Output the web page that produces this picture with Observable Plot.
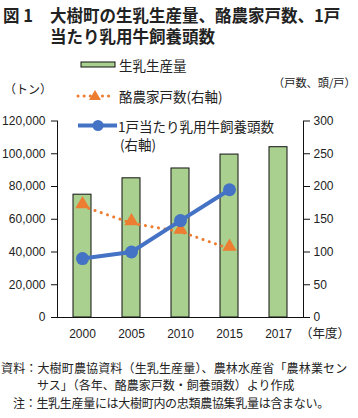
<!DOCTYPE html>
<html><head><meta charset="utf-8">
<script src="https://cdn.jsdelivr.net/npm/d3@7"></script>
<script src="https://cdn.jsdelivr.net/npm/@observablehq/plot@0.6"></script>
<style>
html,body{margin:0;padding:0;background:#fff;}
body{width:358px;height:418px;position:relative;overflow:hidden;font-family:"Noto Sans CJK JP","Noto Sans",sans-serif;color:#222;}
.abs{position:absolute;white-space:nowrap;}
.title{font-weight:700;font-size:16.5px;line-height:20.5px;}
.leg{font-size:13.5px;line-height:16px;}
.unit{font-size:12px;line-height:14px;}
.foot{font-size:12px;line-height:15px;height:15px;}
#chart{position:absolute;left:0;top:50px;}
</style></head>
<body>
<div class="abs title" style="left:3px;top:5px;">図 1</div>
<div class="abs title" style="left:50px;top:5px;">大樹町の生乳生産量、酪農家戸数、1戸<br>当たり乳用牛飼養頭数</div>
<div id="chart"></div>
<div id="legend"></div>
<div class="abs unit" style="left:4px;top:82px;">（トン）</div>
<div class="abs unit" style="left:273px;top:75px;font-size:11.2px;">（戸数、頭/戸）</div>
<div class="abs unit" style="left:300px;top:326px;font-size:12.5px;">（年度）</div>
<div class="abs foot" style="left:1px;top:359.5px;letter-spacing:0.15px;">資料：大樹町農協資料（生乳生産量）、農林水産省「農林業セン</div>
<div class="abs foot" style="left:37px;top:376.5px;">サス」（各年、酪農家戸数・飼養頭数）より作成</div>
<div class="abs foot" style="left:13px;top:394.5px;letter-spacing:-0.3px;">注：生乳生産量には大樹町内の忠類農協集乳量は含まない。</div>
<script>
// ---- data ----
const years = ["2000", "2005", "2010", "2015", "2017"];
const milkTons = [75000, 85000, 91000, 99500, 104000];
const farmYears = ["2000", "2005", "2010", "2015"];
const dairyFarms = [170, 144, 131, 105];
const headsPerFarm = [90, 100, 148, 195];
const leftTicks = [0, 20000, 40000, 60000, 80000, 100000, 120000];
const seriesNames = ["生乳生産量", "酪農家戸数(右軸)", "1戸当たり乳用牛飼養頭数", "(右軸)"];

const ratio = 120000 / 300; // right axis → left axis
const green = "#a9d08e", orange = "#ed7d31", blue = "#4472c4";

const bars = years.map((y, i) => ({year: y, v: milkTons[i]}));
const farms = farmYears.map((y, i) => ({year: y, v: dairyFarms[i] * ratio}));
const heads = farmYears.map((y, i) => ({year: y, v: headsPerFarm[i] * ratio}));

const numFont = "'Liberation Sans', Arial, sans-serif";

const chart = Plot.plot({
  width: 358,
  height: 300,
  marginTop: 70.5,
  marginBottom: 33,
  marginLeft: 57,
  marginRight: 55,
  style: {fontFamily: numFont, fontSize: "12px", color: "#222", background: "#fff"},
  x: {type: "band", domain: years, paddingInner: 0.63, paddingOuter: 0.315, label: null},
  y: {domain: [0, 120000], label: null},
  marks: [
    Plot.barY(bars, {x: "year", y: "v", fill: green, stroke: "#111", strokeWidth: 1}),
    Plot.frame({anchor: "left", stroke: "#111"}),
    Plot.frame({anchor: "right", stroke: "#111"}),
    Plot.frame({anchor: "bottom", stroke: "#111"}),
    Plot.axisY({ticks: leftTicks, tickSize: 6, tickPadding: 6, tickFormat: d => d3.format(",")(d), label: null, fill: "#222", stroke: "#111"}),
    Plot.axisY({anchor: "right", ticks: leftTicks, tickSize: 6, tickPadding: 4, tickFormat: d => d / ratio, label: null, fill: "#222", stroke: "#111"}),
    Plot.axisX({tickSize: 0, tickPadding: 12, label: null, fill: "#222"}),
    Plot.line(farms, {x: "year", y: "v", stroke: orange, strokeWidth: 3, strokeDasharray: "0.1 6.5", strokeLinecap: "round"}),
    Plot.dot(farms, {x: "year", y: "v", symbol: "triangle", r: 5.3, fill: orange, dy: -2}),
    Plot.line(heads, {x: "year", y: "v", stroke: blue, strokeWidth: 4}),
    Plot.dot(heads, {x: "year", y: "v", r: 6.5, fill: blue})
  ]
});
document.getElementById("chart").appendChild(chart);

// ---- legend ----
const lg = document.getElementById("legend");
lg.innerHTML = `
<svg class="abs" style="left:0;top:0;" width="358" height="160">
  <rect x="81" y="62" width="34" height="5" fill="${green}" stroke="#111" stroke-width="1"/>
  <line x1="78" x2="114" y1="96" y2="96" stroke="${orange}" stroke-width="3" stroke-dasharray="0.1 6" stroke-linecap="round"/>
  <path d="M95,90 L101,100 L89,100 Z" fill="${orange}"/>
  <line x1="78" x2="117" y1="125.5" y2="125.5" stroke="${blue}" stroke-width="4"/>
  <circle cx="98" cy="125.5" r="5.5" fill="${blue}"/>
</svg>
<div class="abs leg" style="left:119px;top:57px;">${seriesNames[0]}</div>
<div class="abs leg" style="left:119px;top:88px;">${seriesNames[1]}</div>
<div class="abs leg" style="left:118px;top:117px;line-height:18px;">${seriesNames[2]}<br><span style="margin-left:2px;">${seriesNames[3]}</span></div>`;
</script>
</body></html>
